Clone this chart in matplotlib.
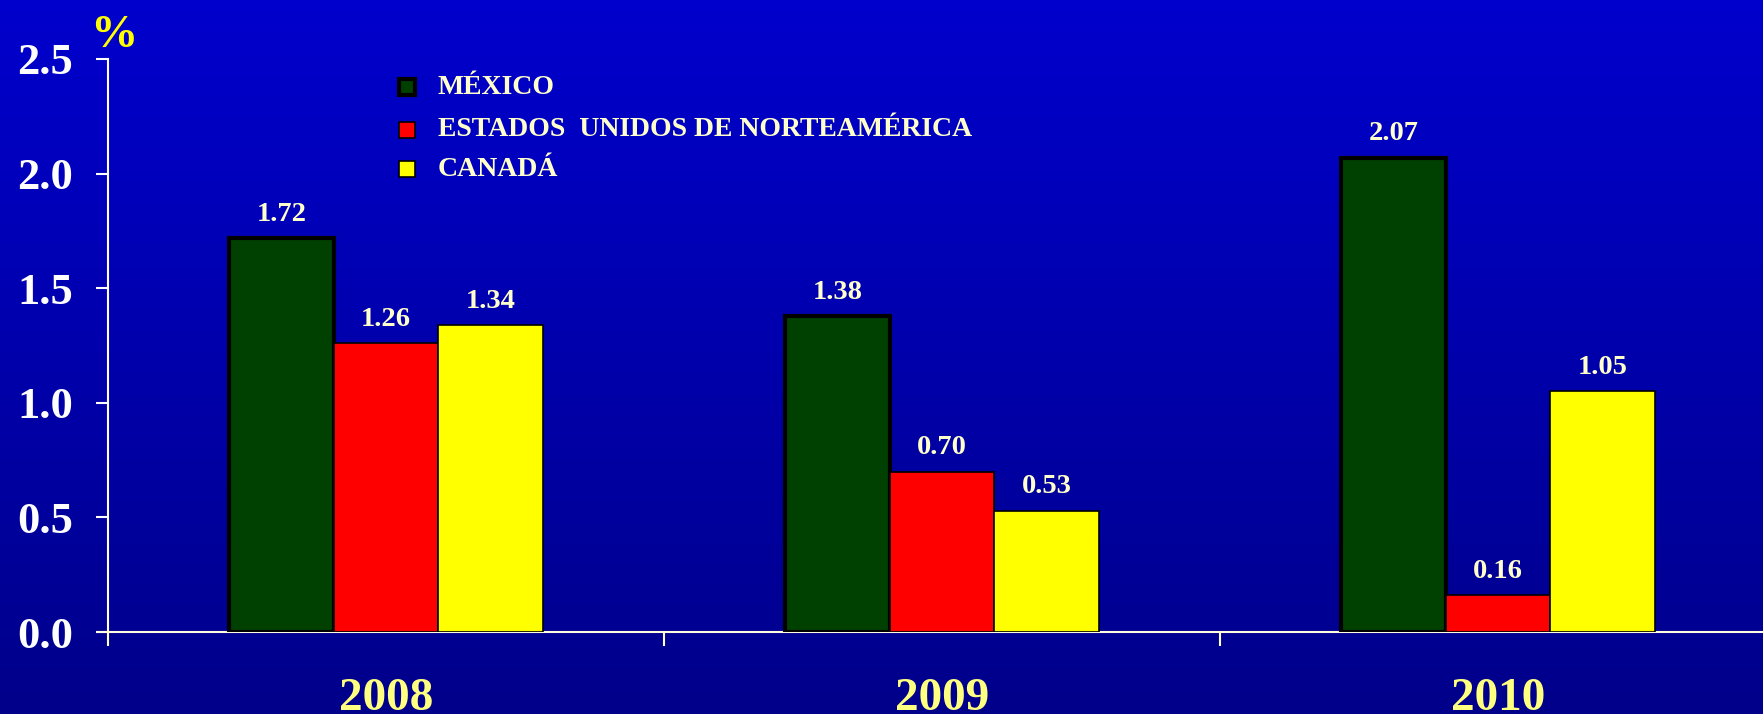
import numpy as np
import matplotlib
matplotlib.use("Agg")
import matplotlib.pyplot as plt
from matplotlib.patches import Rectangle

plt.rcParams['font.family'] = ['Liberation Serif', 'DejaVu Serif']
plt.rcParams['font.weight'] = 'bold'

# data
years = ["2008", "2009", "2010"]
series = ["MÉXICO", "ESTADOS  UNIDOS DE NORTEAMÉRICA", "CANADÁ"]
mexico = [1.72, 1.38, 2.07]
usa = [1.26, 0.70, 0.16]
canada = [1.34, 0.53, 1.05]
yticks = [0.0, 0.5, 1.0, 1.5, 2.0, 2.5]

values = [mexico, usa, canada]
colors = ["#004000", "#FF0000", "#FFFF00"]
edge_w = [3.0, 1.2, 1.2]
text_col = "#FFFFCC"

W, H = 1763, 714
fig = plt.figure(figsize=(W / 100, H / 100), dpi=100)

# gradient background
bg = fig.add_axes([0, 0, 1, 1], zorder=-10)
grad = np.linspace(0, 1, 256).reshape(-1, 1)
top = np.array([0, 0, 205]) / 255
bot = np.array([0, 0, 138]) / 255
img = top[None, None, :] * (1 - grad[:, :, None]) + bot[None, None, :] * grad[:, :, None]
bg.imshow(img, aspect='auto', extent=[0, 1, 0, 1])
bg.axis('off')

left_px, y0_px, ytop_px = 98, 632, 59
ax = fig.add_axes([left_px / W, 1 - y0_px / H, 1 - left_px / W, (y0_px - ytop_px) / H])
ax.patch.set_alpha(0)

x = np.arange(len(years))
bw = 0.188
for i, (vals, c) in enumerate(zip(values, colors)):
    pos = x + (i - 1) * bw
    bars = ax.bar(pos, vals, width=bw, color=c, edgecolor='black', linewidth=edge_w[i], zorder=3)
    for b, v in zip(bars, vals):
        ax.annotate(f"{v:.2f}", (b.get_x() + b.get_width() / 2, v), xytext=(0, 8),
                    textcoords='offset points', ha='center', va='bottom',
                    fontsize=20.5, color=text_col, fontweight='bold')

ax.set_xlim(-0.518, 2.477)
ax.set_ylim(0, 2.5)
for s in ['top', 'right']:
    ax.spines[s].set_visible(False)
ax.spines['left'].set_position(('data', -0.5))
ax.spines['left'].set_color('white')
ax.spines['left'].set_linewidth(1.5)
ax.spines['bottom'].set_color('#FFFFE0')
ax.spines['bottom'].set_linewidth(1.5)

ax.set_yticks(yticks)
ax.set_yticklabels([f"{t:.1f}" for t in yticks])
ax.tick_params(axis='y', colors='white', length=9, width=1.5, pad=16, labelsize=32)

ax.set_xticks([-0.5, 0.5, 1.5])
ax.set_xticklabels([])
ax.tick_params(axis='x', which='major', colors='#FFFFE0', length=10, width=1.5)
ax.set_xticks(x, minor=True)
ax.set_xticklabels(years, minor=True)
ax.tick_params(axis='x', which='minor', length=0, pad=33, labelsize=34, labelcolor='#FFFF80')
for lbl in ax.get_yticklabels() + ax.get_xticklabels(minor=True):
    lbl.set_fontweight('bold')

fig.text(114 / W, 1 - 47 / H, "%", color='#FFFF00', fontsize=34, fontweight='bold',
         ha='center', va='baseline')

# legend
leg_y = [87, 130, 169]
sq = 16
for name, c, lw, yy in zip(series, colors, edge_w, leg_y):
    fig.add_artist(Rectangle(((407 - sq / 2) / W, 1 - (yy + sq / 2) / H), sq / W, sq / H,
                             facecolor=c, edgecolor='black', linewidth=lw,
                             transform=fig.transFigure))
    fig.text(438 / W, 1 - yy / H, name, color=text_col, fontsize=20, fontweight='bold',
             ha='left', va='center')

fig.savefig("out.png", dpi=100)
